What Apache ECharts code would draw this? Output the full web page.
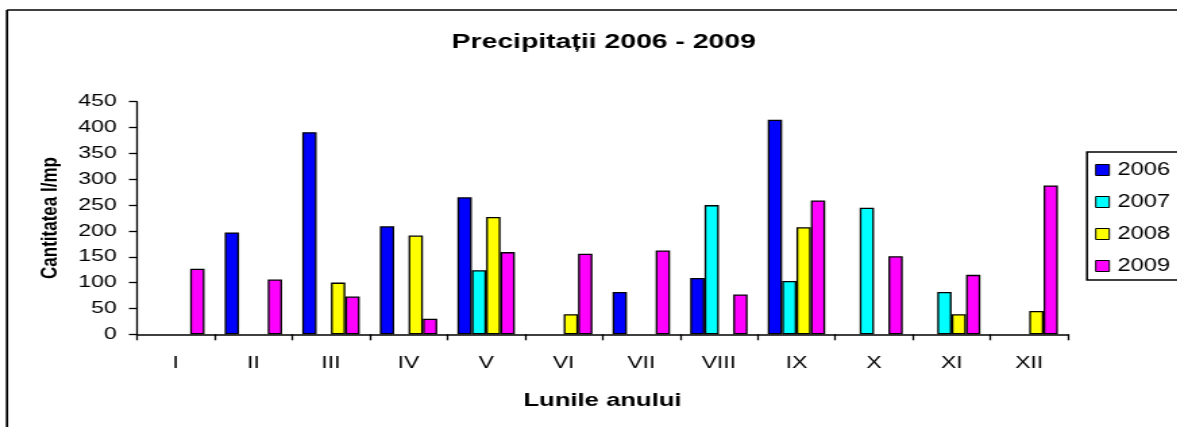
<!DOCTYPE html>
<html><head><meta charset="utf-8">
<script src="https://cdn.jsdelivr.net/npm/echarts@6/dist/echarts.min.js"></script>
<style>
html,body{margin:0;padding:0;background:#fff;overflow:hidden}
#wrap{width:1178px;height:427px;overflow:hidden;position:relative;background:#fff}
#c{width:872px;height:427px;transform:scaleX(1.35);transform-origin:0 0;position:absolute;left:0;top:0}
</style>
</head><body><div id="wrap"><div id="c"></div></div>
<script>
const categories = ['I','II','III','IV','V','VI','VII','VIII','IX','X','XI','XII'];
const years = ['2006','2007','2008','2009'];
const v2006 = [null, 197, 391, 209, 265, null, 82, 109, 415, null, null, null];
const v2007 = [null, null, null, null, 124, null, null, 250, 103, 245, 82, null];
const v2008 = [null, null, 100, 191, 227, 39, null, null, 207, null, 39, 45];
const v2009 = [127, 106, 73, 30, 159, 156, 162, 77, 259, 151, 115, 288];
const yTicks = [0, 450, 50];
const colors = ['#0000FF', '#00FFFF', '#FFFF00', '#FF00FF'];
const seriesValues = [v2006, v2007, v2008, v2009];

const S = 1.35;
const W = 872;
const font = 'Liberation Sans, Arial, sans-serif';
const chart = echarts.init(document.getElementById('c'), null, {renderer: 'canvas', width: W, height: 427});
chart.setOption({
  animation: false,
  backgroundColor: '#fff',
  title: {
    text: 'Precipitații 2006 - 2009',
    left: 597 / S, top: 27, textAlign: 'center',
    textStyle: {fontFamily: font, fontWeight: 'bold', fontSize: 21, color: '#000'}
  },
  graphic: [
    {type: 'line', shape: {x1: 7 / S, y1: 10, x2: 7 / S, y2: 427}, style: {stroke: '#000', lineWidth: 1.7}, silent: true, z: 100},
    {type: 'line', shape: {x1: 7 / S, y1: 10, x2: W, y2: 10}, style: {stroke: '#000', lineWidth: 1.7}, silent: true, z: 100}
  ],
  legend: {
    orient: 'vertical', left: 1087 / S, top: 152,
    padding: [8, 8, 4, 6],
    itemGap: 12, itemWidth: 10, itemHeight: 11,
    borderColor: '#000', borderWidth: 1.5,
    icon: 'rect',
    data: years,
    textStyle: {fontFamily: font, fontSize: 17.5, color: '#000', lineHeight: 20, padding: [0, 0, 0, 1]},
    itemStyle: {borderColor: '#000', borderWidth: 1}
  },
  grid: {left: 137 / S, right: W - 1068 / S, top: 101.7, bottom: 92.7, containLabel: false},
  xAxis: {
    type: 'category', data: categories,
    name: 'Lunile anului', nameLocation: 'middle', nameGap: 57,
    nameTextStyle: {fontFamily: font, fontWeight: 'bold', fontSize: 19, color: '#000'},
    axisLine: {lineStyle: {color: '#000', width: 1.5}},
    axisTick: {show: true, length: 6, alignWithLabel: false, lineStyle: {color: '#000', width: 1.3}},
    axisLabel: {fontFamily: font, fontSize: 17, color: '#000', margin: 21},
    splitLine: {show: false}
  },
  yAxis: {
    type: 'value', min: yTicks[0], max: yTicks[1], interval: yTicks[2],
    name: 'Cantitatea l/mp', nameLocation: 'middle', nameGap: 56, nameRotate: 90,
    nameTextStyle: {fontFamily: font, fontWeight: 'bold', fontSize: 17, color: '#000'},
    axisLine: {show: true, lineStyle: {color: '#000', width: 1.3}},
    axisTick: {show: true, length: 6, lineStyle: {color: '#000', width: 1.3}},
    axisLabel: {fontFamily: font, fontSize: 17, color: '#000', margin: 15},
    splitLine: {show: false}
  },
  series: years.map((y, i) => ({
    name: y, type: 'bar', data: seriesValues[i],
    barGap: '0%', barCategoryGap: '26%',
    itemStyle: {color: colors[i], borderColor: '#000', borderWidth: 1.3}
  }))
});
</script></body></html>
